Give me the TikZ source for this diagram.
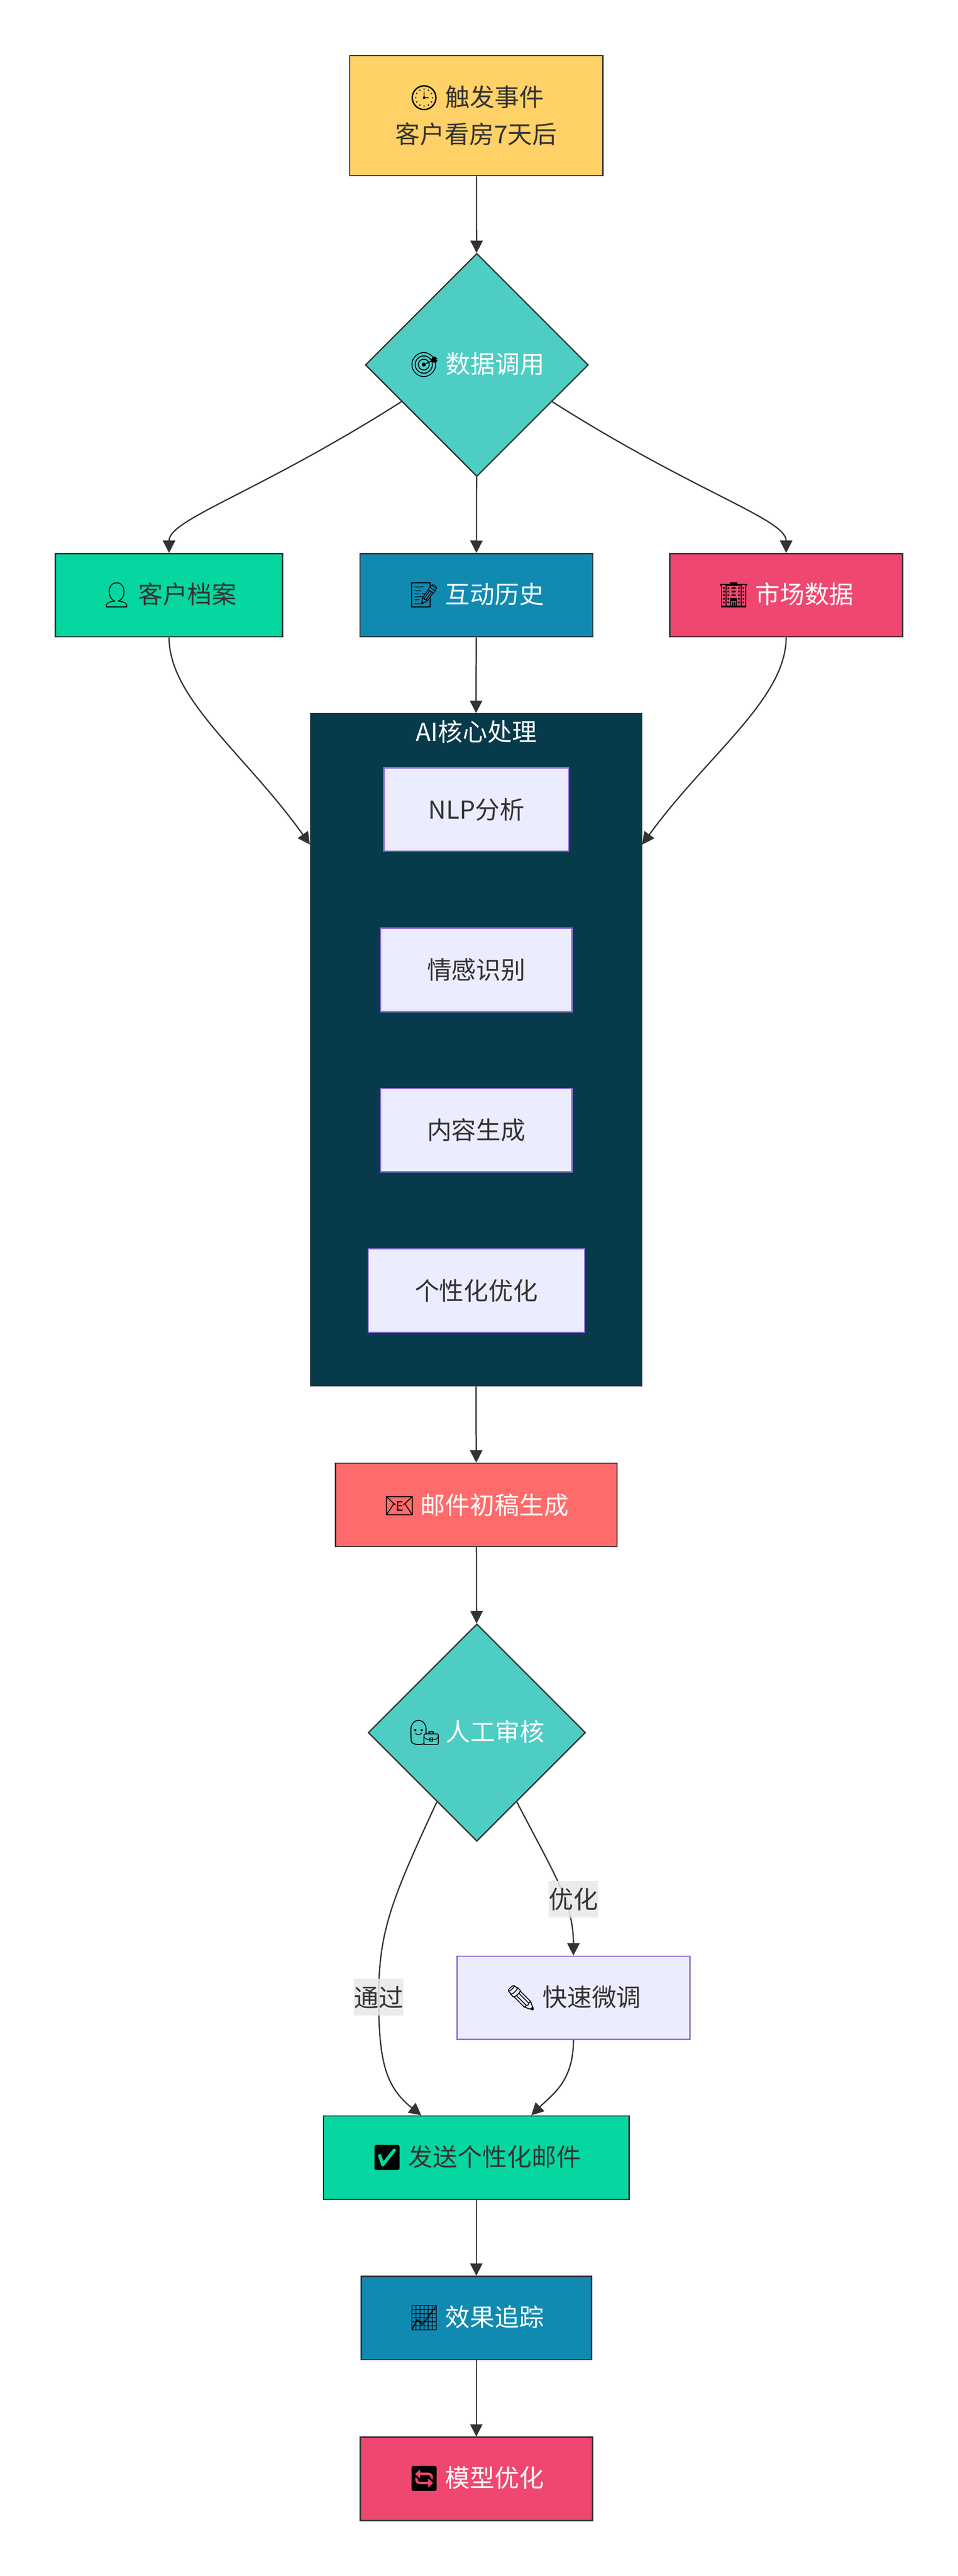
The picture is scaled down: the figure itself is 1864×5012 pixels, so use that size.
\documentclass[tikz,border=0pt]{standalone}
\usepackage{fontspec}
\setmainfont{Noto Sans CJK SC}
\newfontfamily\emo{Noto Emoji}
\usetikzlibrary{shapes.geometric,arrows.meta}
\definecolor{cyellow}{HTML}{FFD166}
\definecolor{cteal}{HTML}{4ECDC4}
\definecolor{cgreen}{HTML}{06D6A0}
\definecolor{cblue}{HTML}{118AB2}
\definecolor{cpink}{HTML}{EF476F}
\definecolor{cdark}{HTML}{073B4C}
\definecolor{cred}{HTML}{FF6B6B}
\definecolor{clav}{HTML}{ECECFF}
\definecolor{cpurple}{HTML}{9370DB}
\definecolor{ctext}{HTML}{333333}
\definecolor{clabel}{HTML}{E8E8E8}
\newcommand{\emj}[1]{{\emo\color{black}#1}}
\tikzset{
  base/.style={draw=ctext, line width=2.5pt, inner sep=0pt, minimum height=162pt,
    font=\fontsize{48}{72}\selectfont, align=center},
  boxY/.style={base, fill=cyellow, text=ctext},
  boxG/.style={base, fill=cgreen, text=ctext},
  boxB/.style={base, fill=cblue, text=white},
  boxP/.style={base, fill=cpink, text=white},
  boxR/.style={base, fill=cred, text=white},
  boxL/.style={base, draw=cpurple, fill=clav, text=ctext},
  dia/.style={base, shape=diamond, aspect=1, fill=cteal, text=white},
  clus/.style={draw=ctext, line width=1.5pt, fill=cdark, inner sep=0pt},
  edge/.style={draw=ctext, line width=2.5pt, -{Triangle[length=24pt,width=24pt]}},
  lbl/.style={fill=clabel, fill opacity=0.85, text opacity=1, text=ctext, inner sep=0pt,
    minimum height=71pt, font=\fontsize{48}{72}\selectfont}
}
\begin{document}
\begin{tikzpicture}[x=1pt,y=-1pt]
\useasboundingbox (0,0) rectangle (1864,5012);
\fill[white] (0,0) rectangle (1864,5012);

% cluster
\node[clus, minimum width=645pt, minimum height=1309pt] (ai) at (926.5,2042.5) {};
\node[text=white, font=\fontsize{48}{60}\selectfont, inner sep=0pt] (aititle) at (927,1424) {AI核心处理};

% nodes
\node[boxY, minimum width=493pt, minimum height=234pt] (start) at (927,225) {\emj{🕒} 触发事件\\客户看房7天后};
\node[dia, minimum width=434pt, minimum height=434pt] (d1) at (928,710) {\emj{🎯} 数据调用};
\node[boxG, minimum width=442pt] (kh) at (329,1158) {\emj{👤} 客户档案};
\node[boxB, minimum width=453pt] (hd) at (927,1158) {\emj{📝} 互动历史};
\node[boxP, minimum width=453pt] (sc) at (1530,1158) {\emj{🏢} 市场数据};

\node[boxL, minimum width=359pt] (nlp) at (927,1575) {NLP分析};
\node[boxL, minimum width=372pt] (qg) at (927,1887) {情感识别};
\node[boxL, minimum width=372pt] (nr) at (927,2199) {内容生成};
\node[boxL, minimum width=421pt] (gx) at (927,2511) {个性化优化};

\node[boxR, minimum width=548pt] (yj) at (927,2928) {\emj{📧} 邮件初稿生成};
\node[dia, minimum width=423pt, minimum height=423pt] (d2) at (928,3371) {\emj{👨‍💼} 人工审核};
\node[boxL, minimum width=453pt] (ks) at (1116,3887) {\emj{✏} 快速微调};
\node[boxG, minimum width=595pt] (fs) at (927,4198) {\emj{✅} 发送个性化邮件};
\node[boxB, minimum width=448pt] (xg) at (927,4510) {\emj{📈} 效果追踪};
\node[boxP, minimum width=452pt] (mx) at (927,4823) {\emj{🔄} 模型优化};

% edges
\draw[edge] (start) -- (d1);
\draw[edge] (d1.206) .. controls (500,960) and (329,1010) .. (kh.north);
\draw[edge] (d1) -- (hd);
\draw[edge] (d1.334) .. controls (1356,960) and (1530,1010) .. (sc.north);
\draw[edge] (kh.south) .. controls (329,1360) and (480,1470) .. ([yshift=-256pt]ai.north west);
\draw[edge] (sc.south) .. controls (1530,1360) and (1375,1470) .. ([yshift=-256pt]ai.north east);
\draw[edge] (hd) -- (ai.north);
\draw[edge] (ai.south) -- (yj);
\draw[edge] (yj) -- (d2);
\draw[edge] (d2.240) .. controls (760,3700) and (737,3760) .. (737,3886)
   .. controls (737,4010) and (750,4060) .. ([xshift=-107pt]fs.north);
\draw[edge] (d2.300) .. controls (1075,3640) and (1116,3700) .. (ks.north);
\draw[edge] (ks.south) .. controls (1116,4050) and (1075,4075) .. ([xshift=107pt]fs.north);
\draw[edge] (fs) -- (xg);
\draw[edge] (xg) -- (mx);

% labels
\node[lbl, minimum width=95pt] (lt) at (737,3886) {通过};
\node[lbl, minimum width=95pt] (lo) at (1116,3695) {优化};
\end{tikzpicture}
\end{document}
